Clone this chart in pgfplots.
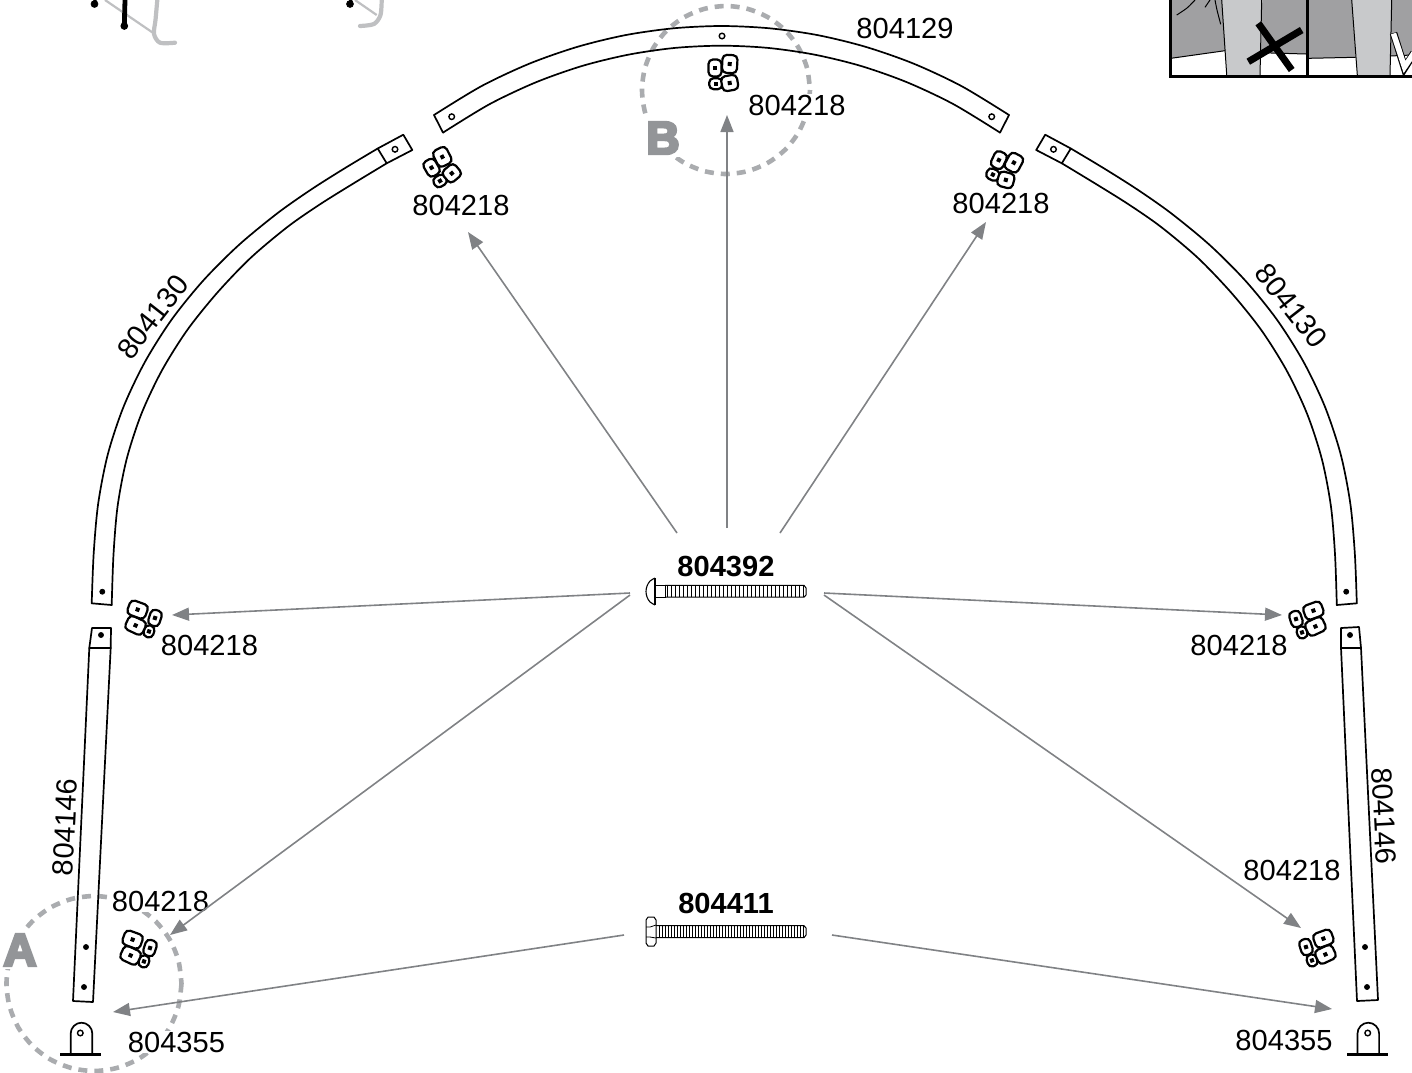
\documentclass[border=0pt]{standalone}
\usepackage{fontspec}
\setmainfont{Liberation Sans}
\newfontfamily\heavy[FakeBold=6]{Liberation Sans Bold}
\usepackage{pgfplots}
\pgfplotsset{compat=1.18}
\usetikzlibrary{arrows.meta}
\usetikzlibrary{plotmarks}

\definecolor{arrowgray}{HTML}{808285}
\definecolor{circlegray}{HTML}{AAACAF}
\definecolor{lettergray}{HTML}{939598}
\definecolor{colgray}{HTML}{C8C9CB}
\definecolor{matgray}{HTML}{A0A0A2}
\definecolor{ghost}{HTML}{BFC0C2}

% one square nut: centre x, y, width, height, rotation (pt, y up)
\newcommand\nut[5]{%
  \pgfscope
  \pgftransformshift{\pgfpoint{#1pt}{#2pt}}%
  \pgftransformrotate{#5}%
  \pgfscope
  \pgfsetfillcolor{white}%
  \pgfsetcornersarced{\pgfpoint{2.2pt}{2.2pt}}%
  \pgfpathrectangle{\pgfpoint{-0.5*#3pt}{-0.5*#4pt}}{\pgfpoint{#3pt}{#4pt}}%
  \pgfusepath{fill,stroke}%
  \endpgfscope
  \pgfsetfillcolor{black}%
  \pgfpathrectangle{\pgfpoint{-1pt}{-1pt}}{\pgfpoint{2pt}{2pt}}%
  \pgfusepath{fill}%
  \endpgfscope}
\pgfdeclareplotmark{nutb}{%
  \nut{-3.65}{-5.35}{6.5}{5.5}{0}%
  \nut{3.35}{-5}{8}{7.5}{10}%
  \nut{-4}{2.5}{6.5}{8.5}{0}%
  \nut{3.35}{4.5}{7.5}{9}{-3}}
\pgfdeclareplotmark{nuta}{%
  \nut{2.5}{-6.2}{5}{6}{-18}%
  \nut{5.5}{0.5}{5.8}{8}{-18}%
  \nut{-4.2}{-3.2}{9.5}{7.5}{-25}%
  \nut{-3.2}{4.7}{9.5}{7.5}{-20}}

\tikzset{
  part/.style={line width=.85pt, line join=round, line cap=round},
  ring/.style={color=circlegray, line width=2.3pt, smooth, dash pattern=on 4.5pt off 3.5pt},
  lead/.style={color=arrowgray, line width=.8pt, -{Stealth[length=8.5pt,width=6.5pt,inset=0pt]}},
  lab/.style={font=\fontsize{14.55}{16}\selectfont, inner sep=0.5pt, fill=white},
  plainlab/.style={font=\fontsize{14.55}{16}\selectfont, inner sep=0pt},
  boldlab/.style={font=\fontsize{14.55}{16}\selectfont\bfseries, inner sep=0pt},
  letter/.style={font=\fontsize{23}{24}\selectfont\heavy, text=lettergray, inner sep=1.5pt, fill=white},
}

\begin{document}
\begin{tikzpicture}
\path[use as bounding box] (0,0) rectangle (706pt,536pt);
\begin{axis}[
    at={(0,0)}, anchor=south west,
    scale only axis, width=706pt, height=536pt,
    xmin=0, xmax=1412, ymin=0, ymax=1072,
    y dir=reverse,
    hide axis,
]
% cut-off sketch, top left
\addplot[color=ghost, line width=1.1pt] coordinates {(105,0) (153.3,33)};
\addplot[color=ghost, line width=2.1pt, smooth, line cap=round] coordinates {(157.3,0) (155.5,20) (154,34) (160,42.7) (175,42.7)};
\addplot[color=ghost, line width=1.1pt] coordinates {(355,0) (376.7,15)};
\addplot[color=ghost, line width=2.1pt, smooth, line cap=round] coordinates {(381.7,0) (380.5,15) (374,24) (360,26)};
\addplot[line width=2.4pt] coordinates {(125,0) (124.3,26)};
\addplot[line width=1.6pt] coordinates {(95,0) (94.5,4)};
\addplot[line width=1.6pt] coordinates {(351,0) (350,4)};
\addplot[only marks, mark=*, mark size=1.7pt] coordinates {(124.3,26) (94.5,4) (350,4)};

% cut-off panels, top right
\addplot[fill=matgray, draw=none] coordinates {(1171,0) (1223.3,0) (1225,50.7) (1171,58.3) (1171,0)};
\addplot[fill=matgray, draw=none] coordinates {(1262.3,0) (1306,0) (1306,54) (1261,52.7) (1262.3,0)};
\addplot[fill=matgray, draw=none] coordinates {(1309,0) (1351.7,0) (1355.7,57.3) (1309,58.3) (1309,0)};
\addplot[fill=matgray, draw=none] coordinates {(1391.7,0) (1412,0) (1412,55) (1390,56) (1391.7,0)};
\addplot[fill=colgray, draw=none] coordinates {(1221.7,0) (1261.7,0) (1260,75) (1226.7,75) (1221.7,0)};
\addplot[fill=colgray, draw=none] coordinates {(1351.7,0) (1391.7,0) (1390,75) (1357.3,75) (1351.7,0)};
\addplot[line width=.5pt] coordinates {(1171,58.3) (1225,50.7)};
\addplot[line width=.5pt] coordinates {(1261,52.7) (1306,54)};
\addplot[line width=.5pt] coordinates {(1309,58.3) (1355.7,57.3)};
\addplot[line width=.5pt] coordinates {(1390,56) (1412,55)};
\addplot[line width=.5pt] coordinates {(1221.7,0) (1226.7,75)};
\addplot[line width=.5pt] coordinates {(1261.7,0) (1260,75)};
\addplot[line width=.5pt] coordinates {(1351.7,0) (1357.3,75)};
\addplot[line width=.5pt] coordinates {(1391.7,0) (1390,75)};
\addplot[line width=.5pt, smooth] coordinates {(1176.7,15) (1187,8) (1195,0)};
\addplot[line width=.5pt] coordinates {(1205,7.3) (1210,0)};
\addplot[line width=.5pt, smooth] coordinates {(1215,0) (1217,10) (1220.7,24.3)};
\addplot[line width=1.5pt] coordinates {(1170,0) (1170,76) (1412,76)};
\addplot[line width=1.5pt] coordinates {(1307.3,0) (1307.3,76)};
\addplot[line width=3.5pt] coordinates {(1258.3,23.3) (1291.7,70)};
\addplot[line width=3.5pt] coordinates {(1248.3,61.7) (1301.7,30)};
\addplot[line width=3.75pt] coordinates {(1393.5,33) (1404.5,68) (1414,53)};
\addplot[color=white, line width=2.75pt] coordinates {(1393.5,33.5) (1404.5,67) (1414,53)};

% detail circles
\addplot[ring] coordinates {
  (181.5,983.5) (178.5,1006.1) (169.8,1027.3) (155.9,1045.4) (137.8,1059.3) (116.6,1068)
  (94,1071) (71.4,1068) (50.2,1059.3) (32.1,1045.4) (18.2,1027.3) (9.5,1006.1)
  (6.5,983.5) (9.5,960.9) (18.2,939.7) (32.1,921.6) (50.2,907.7) (71.4,899)
  (94,896) (116.6,899) (137.8,907.7) (155.9,921.6) (169.8,939.7) (178.5,960.9) (181.5,983.5)};
\addplot[ring] coordinates {
  (810,90) (807.1,111.7) (798.7,132) (785.4,149.4) (768,162.7) (747.7,171.1)
  (726,174) (704.3,171.1) (684,162.7) (666.6,149.4) (653.3,132) (644.9,111.7)
  (642,90) (644.9,68.3) (653.3,48) (666.6,30.6) (684,17.3) (704.3,8.9)
  (726,6) (747.7,8.9) (768,17.3) (785.4,30.6) (798.7,48) (807.1,68.3) (810,90)};

% left arc
\addplot[part, smooth] coordinates {(91.7,603.3) (93.7,553.3) (98.2,503.5) (107.8,454.4) (123.5,406.9) (145,361.8) (171.7,319.5) (203.2,280.6) (238.6,245.2) (277.2,213.4) (311,189.6) (344.5,168.4) (377.7,148.5)};
\addplot[part, smooth] coordinates {(111.7,605) (113.5,554.5) (117.6,506.2) (126.6,459.3) (141.3,414.1) (161.6,371) (187,330.4) (217,293) (250.4,258.1) (287.5,226.9) (320,204.3) (353.5,183.4) (386.7,163.3)};
\addplot[part] coordinates {(91.7,603.3) (111.7,605)};
\addplot[part] coordinates {(377.7,148.5) (403.3,134.7) (412.3,150) (386.7,163.3) (377.7,148.5)};
% right arc
\addplot[part, smooth] coordinates {(1356.8,603.3) (1354.8,553.3) (1350.3,503.5) (1340.7,454.4) (1325,406.9) (1303.5,361.8) (1276.8,319.5) (1245.3,280.6) (1209.9,245.2) (1171.3,213.4) (1137.5,189.6) (1104,168.4) (1070.8,148.5)};
\addplot[part, smooth] coordinates {(1336.8,605) (1335,554.5) (1330.9,506.2) (1321.9,459.3) (1307.2,414.1) (1286.9,371) (1261.5,330.4) (1231.5,293) (1198.1,258.1) (1161,226.9) (1128.5,204.3) (1095,183.4) (1061.8,163.3)};
\addplot[part] coordinates {(1356.8,603.3) (1336.8,605)};
\addplot[part] coordinates {(1070.8,148.5) (1045.2,134.7) (1036.2,150) (1061.8,163.3) (1070.8,148.5)};
% top arc
\addplot[part, smooth] coordinates {(434,115) (481.5,86.1) (529.5,63.6) (577.5,46.8) (625.5,35.1) (673.5,28.3) (721.5,26) (769.5,28.3) (817.5,35.1) (865.5,46.8) (913.5,63.6) (961.5,86.1) (1009,115)};
\addplot[part, smooth] coordinates {(443,132.6) (489.5,104.2) (535.9,82.3) (582.3,65.9) (628.7,54.6) (675.1,47.9) (721.5,45.7) (767.9,47.9) (814.3,54.6) (860.7,65.9) (907.1,82.3) (953.5,104.2) (1000,132.6)};
\addplot[part] coordinates {(434,115) (443,132.6)};
\addplot[part] coordinates {(1009,115) (1000,132.6)};
% straight legs
\addplot[part] coordinates {(92,628) (111,628) (110.7,648) (93,1002) (73,1001) (89.3,648) (92,628)};
\addplot[part] coordinates {(89.3,648) (110.7,648)};
\addplot[part] coordinates {(1341,628) (1359,627) (1361,648) (1378,1000) (1357,1001) (1341,648) (1341,628)};
\addplot[part] coordinates {(1341,648) (1361,648)};

% holes
\addplot[only marks, mark=*, mark size=1.25pt] coordinates {(86,947) (84,987) (101,635) (1365,947) (1367,987) (1350,635) (102.3,591.7) (1346.2,591.7)};
\addplot[only marks, mark=*, mark size=1.4pt, mark options={fill=white, line width=.7pt}] coordinates {(395,149.3) (1053.5,149.3) (451.7,116.7) (991.7,116.7) (722,36)};

% brackets
\addplot[part] coordinates {(70.7,1054) (70.7,1033.5) (71.5,1029.4) (73.9,1025.9) (77.4,1023.5) (81.5,1022.7) (85.6,1023.5) (89.1,1025.9) (91.5,1029.4) (92.3,1033.5) (92.3,1054)};
\addplot[line width=1.5pt] coordinates {(60,1054) (101,1054)};
\addplot[part] coordinates {(1357.5,1054) (1357.5,1033.5) (1358.3,1029.4) (1360.7,1025.9) (1364.2,1023.5) (1368.3,1022.7) (1372.4,1023.5) (1375.9,1025.9) (1378.3,1029.4) (1379.1,1033.5) (1379.1,1054)};
\addplot[line width=1.5pt] coordinates {(1347.3,1054) (1388,1054)};
\addplot[only marks, mark=*, mark size=1.4pt, mark options={fill=white, line width=.7pt}] coordinates {(80.3,1033) (1367.7,1033)};

% nuts
\addplot[only marks, mark=nutb, mark options={line width=1.1pt}] coordinates {(723,73)};
\addplot[only marks, mark=nutb, mark options={rotate=30, line width=1.1pt}] coordinates {(441,168)};
\addplot[only marks, mark=nutb, mark options={rotate=-25, line width=1.1pt}] coordinates {(1004,168)};
\addplot[only marks, mark=nuta, mark options={line width=1.1pt}] coordinates {(144,619) (139,949)};
\addplot[only marks, mark=nuta, mark options={xscale=-1, line width=1.1pt}] coordinates {(1307,620) (1317,948)};

% bolts
\addplot[line width=.55pt, smooth] coordinates {(655,578) (650,581) (647,586) (646,591.5) (647,597) (650,602) (655,605)};
\addplot[line width=.55pt] coordinates {(655,578) (655,605)};
\addplot[line width=.5pt] coordinates {(655,585) (665,585) (665,597) (655,597)};
\addplot[line width=.5pt] coordinates {(665,585.3) (804,585.3) (806,588) (806,595) (804,597.2) (665,597.2)};
\addplot[only marks, mark=|, mark size=3pt, mark options={line width=.5pt}] coordinates {
  (667,591) (671,591) (675,591) (679,591) (683,591) (687,591) (691,591) (695,591) (699,591) (703,591)
  (707,591) (711,591) (715,591) (719,591) (723,591) (727,591) (731,591) (735,591) (739,591) (743,591)
  (747,591) (751,591) (755,591) (759,591) (763,591) (767,591) (771,591) (775,591) (779,591) (783,591)
  (787,591) (791,591) (795,591) (799,591) (803,591)};
\addplot[line width=.5pt] coordinates {(648,917) (654,917) (656,920) (656,943) (654,946) (648,946) (646,943) (646,920) (648,917)};
\addplot[line width=.4pt] coordinates {(646,927) (650,927) (656,925)};
\addplot[line width=.4pt] coordinates {(646,937) (650,937) (656,938)};
\addplot[line width=.5pt] coordinates {(656,925.7) (804,925.7) (806,928) (806,935) (804,937.7) (656,937.7)};
\addplot[only marks, mark=|, mark size=3pt, mark options={line width=.4pt}] coordinates {
  (659,931.7) (662,931.7) (665,931.7) (668,931.7) (671,931.7) (674,931.7) (677,931.7) (680,931.7) (683,931.7) (686,931.7)
  (689,931.7) (692,931.7) (695,931.7) (698,931.7) (701,931.7) (704,931.7) (707,931.7) (710,931.7) (713,931.7) (716,931.7)
  (719,931.7) (722,931.7) (725,931.7) (728,931.7) (731,931.7) (734,931.7) (737,931.7) (740,931.7) (743,931.7) (746,931.7)
  (749,931.7) (752,931.7) (755,931.7) (758,931.7) (761,931.7) (764,931.7) (767,931.7) (770,931.7) (773,931.7) (776,931.7)
  (779,931.7) (782,931.7) (785,931.7) (788,931.7) (791,931.7) (794,931.7) (797,931.7) (800,931.7) (803,931.7)};

% labels that break the circles
\node[letter] at (axis cs:20,950) {A};
\node[letter] at (axis cs:663,138) {B};
\node[lab] at (axis cs:797,105) {804218};
\node[lab] at (axis cs:160.5,901) {804218};
\node[lab] at (axis cs:176.5,1042) {804355};

% leader arrows
\addplot[lead] coordinates {(677,533) (468,232)};
\addplot[lead] coordinates {(727,528) (727,115)};
\addplot[lead] coordinates {(780,533) (986,222)};
\addplot[lead] coordinates {(630,593) (172,615)};
\addplot[lead] coordinates {(824,593) (1282,615)};
\addplot[lead] coordinates {(630,595) (170,935)};
\addplot[lead] coordinates {(824,595) (1301,928)};
\addplot[lead] coordinates {(624,935) (113,1012)};
\addplot[lead] coordinates {(832,935) (1332,1009)};

% part numbers
\node[plainlab] at (axis cs:905,28) {804129};
\node[plainlab] at (axis cs:461,205) {804218};
\node[plainlab] at (axis cs:1001,203) {804218};
\node[plainlab] at (axis cs:209.5,645) {804218};
\node[plainlab] at (axis cs:1239,645) {804218};
\node[plainlab] at (axis cs:1292,870) {804218};
\node[plainlab] at (axis cs:1284,1040) {804355};
\node[plainlab, rotate=52] at (axis cs:153,317) {804130};
\node[plainlab, rotate=-52] at (axis cs:1291,306) {804130};
\node[plainlab, rotate=87] at (axis cs:65,827) {804146};
\node[plainlab, rotate=-87] at (axis cs:1384,816) {804146};
\node[boldlab] at (axis cs:726,566) {804392};
\node[boldlab] at (axis cs:726,903) {804411};
\end{axis}
\end{tikzpicture}
\end{document}
